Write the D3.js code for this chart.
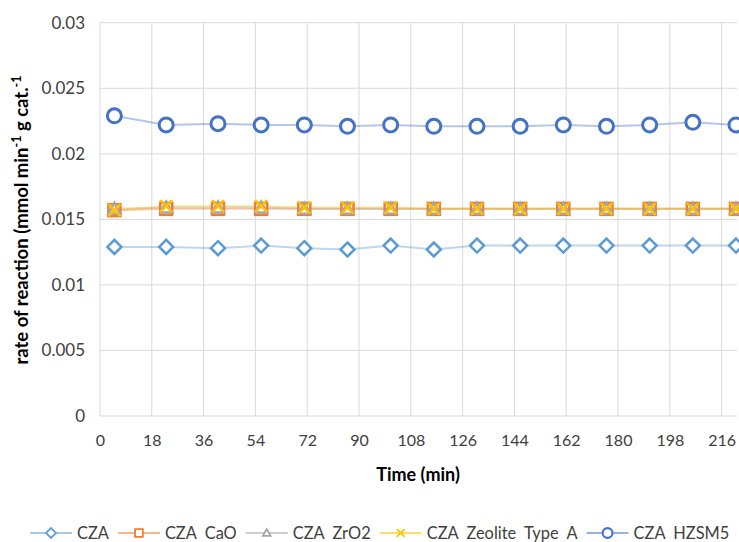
<!DOCTYPE html>
<html>
<head>
<meta charset="utf-8">
<script src="https://cdn.jsdelivr.net/npm/d3@7"></script>
<style>
  body { margin: 0; background: #fff; }
  svg { display: block; font-family: Lato, "Open Sans", sans-serif; }
  text { white-space: pre; }
</style>
</head>
<body>
<svg id="chart" width="739" height="542"></svg>
<script>
const times = [5, 23, 41, 56, 71, 86, 101, 116, 131, 146, 161, 176, 191, 206, 221]
const xTicks = [0, 18, 36, 54, 72, 90, 108, 126, 144, 162, 180, 198, 216]
const yTicks = [0, 0.005, 0.01, 0.015, 0.02, 0.025, 0.03]

const czaVals = [0.0129, 0.0129, 0.0128, 0.0130, 0.0128, 0.0127, 0.0130, 0.0127, 0.0130, 0.0130, 0.0130, 0.0130, 0.0130, 0.0130, 0.0130]
const caoVals = [0.0157, 0.0158, 0.0158, 0.0158, 0.0158, 0.0158, 0.0158, 0.0158, 0.0158, 0.0158, 0.0158, 0.0158, 0.0158, 0.0158, 0.0158]
const zro2Vals = [0.0158, 0.0159, 0.0159, 0.0159, 0.0158, 0.0158, 0.0158, 0.0158, 0.0158, 0.0158, 0.0158, 0.0158, 0.0158, 0.0158, 0.0158]
const zeoliteVals = [0.0157, 0.0160, 0.0160, 0.0160, 0.0159, 0.0159, 0.0159, 0.0158, 0.0158, 0.0158, 0.0158, 0.0158, 0.0158, 0.0158, 0.0158]
const hzsm5Vals = [0.0229, 0.0222, 0.0223, 0.0222, 0.0222, 0.0221, 0.0222, 0.0221, 0.0221, 0.0221, 0.0222, 0.0221, 0.0222, 0.0224, 0.0222]

const seriesNames = ["CZA", "CZA  CaO", "CZA  ZrO2", "CZA  Zeolite  Type  A", "CZA  HZSM5"]
const seriesColors = ["#5b9bd5", "#ed7d31", "#a5a5a5", "#ffc000", "#4472c4"]
const seriesMarkers = ["diamond", "square", "triangle", "cross", "circle"]
const seriesValues = [czaVals, caoVals, zro2Vals, zeoliteVals, hzsm5Vals]

const svg = d3.select("#chart")
const plotLeft = 100, plotTop = 22.7, plotBottom = 416
const step = 51.8 // px per 18 min

const x = d3.scaleLinear().domain([0, 234]).range([plotLeft, plotLeft + 13 * step])
const y = d3.scaleLinear().domain([0, 0.03]).range([plotBottom, plotTop])
const plotRight = 737

// grid
svg.append("g")
  .selectAll("line")
  .data(xTicks)
  .join("line")
  .attr("x1", d => x(d)).attr("x2", d => x(d))
  .attr("y1", plotTop).attr("y2", plotBottom)
  .attr("stroke", "#d9d9d9").attr("stroke-width", 1)

svg.append("g")
  .selectAll("line")
  .data(yTicks)
  .join("line")
  .attr("x1", plotLeft).attr("x2", plotRight)
  .attr("y1", d => y(d)).attr("y2", d => y(d))
  .attr("stroke", "#d9d9d9").attr("stroke-width", 1)

// axes labels via d3 axes, lines hidden
const yAxis = svg.append("g")
  .attr("transform", `translate(${plotLeft - 12},0)`)
  .call(d3.axisLeft(y).tickValues(yTicks).tickSize(0).tickFormat(d => d === 0 ? "0" : String(+d.toFixed(3))))
yAxis.select(".domain").remove()
yAxis.selectAll("text").attr("font-size", 17).attr("fill", "#404040").attr("font-family", "Lato")

const xAxis = svg.append("g")
  .attr("transform", `translate(0,${plotBottom + 16})`)
  .call(d3.axisBottom(x).tickValues(xTicks).tickSize(0))
xAxis.select(".domain").remove()
xAxis.selectAll("text").attr("font-size", 16).attr("fill", "#404040").attr("font-family", "Lato")

// titles
svg.append("text")
  .attr("x", 418).attr("y", 481)
  .attr("text-anchor", "middle")
  .attr("font-size", 18).attr("font-weight", "bold").attr("fill", "#000")
  .text("Time (min)")

const yt = svg.append("text")
  .attr("transform", "translate(28,220) rotate(-90)")
  .attr("text-anchor", "middle")
  .attr("font-size", 18.5).attr("font-weight", "bold").attr("fill", "#000")
yt.append("tspan").text("rate of reaction (mmol min")
yt.append("tspan").text("-1").attr("font-size", 12.5).attr("baseline-shift", "super")
yt.append("tspan").text(" g cat.")
yt.append("tspan").text("-1").attr("font-size", 12.5).attr("baseline-shift", "super")

// marker drawing
function drawMarker(g, type, color, cx, cy, k = 1) {
  const r = 7 * k
  const sw = 2.5 * k
  if (type === "diamond") {
    g.append("path").attr("d", `M${cx},${cy - r}L${cx + r},${cy}L${cx},${cy + r}L${cx - r},${cy}Z`)
      .attr("fill", "#fff").attr("stroke", color).attr("stroke-width", sw)
  } else if (type === "square") {
    g.append("rect").attr("x", cx - r + 1).attr("y", cy - r + 1).attr("width", 2 * r - 2).attr("height", 2 * r - 2)
      .attr("fill", "#fff").attr("stroke", color).attr("stroke-width", sw)
  } else if (type === "triangle") {
    g.append("path").attr("d", `M${cx},${cy - r + 1}L${cx + r - 1},${cy + r - 2}L${cx - r + 1},${cy + r - 2}Z`)
      .attr("fill", "#fff").attr("stroke", color).attr("stroke-width", sw)
  } else if (type === "cross") {
    const c = r - 1
    g.append("path").attr("d", `M${cx - c},${cy - c}L${cx + c},${cy + c}M${cx + c},${cy - c}L${cx - c},${cy + c}`)
      .attr("fill", "none").attr("stroke", color).attr("stroke-width", sw)
  } else if (type === "circle") {
    g.append("circle").attr("cx", cx).attr("cy", cy).attr("r", r)
      .attr("fill", "#fff").attr("stroke", color).attr("stroke-width", 3 * k)
  }
}

const plot = svg.append("g")
const line = d3.line().x((d, i) => x(times[i])).y(d => y(d))

seriesValues.forEach((vals, s) => {
  plot.append("path")
    .datum(vals)
    .attr("d", line)
    .attr("fill", "none")
    .attr("stroke", seriesColors[s])
    .attr("stroke-opacity", 0.4)
    .attr("stroke-width", 2)
})

// markers: draw in series order so later ones sit on top
const order = [0, 4, 1, 2, 3]
order.forEach(s => {
  const g = plot.append("g")
  seriesValues[s].forEach((v, i) => drawMarker(g, seriesMarkers[s], seriesColors[s], x(times[i]), y(v)))
})

// legend
const legend = svg.append("g")
let lx = 30
const ly = 533
seriesNames.forEach((name, s) => {
  const item = legend.append("g")
  item.append("line").attr("x1", lx).attr("x2", lx + 42).attr("y1", ly).attr("y2", ly)
    .attr("stroke", seriesColors[s]).attr("stroke-opacity", 0.55).attr("stroke-width", 2)
  drawMarker(item, seriesMarkers[s], seriesColors[s], lx + 21, ly, 0.7)
  const t = item.append("text").attr("x", lx + 47).attr("y", ly + 6)
    .attr("font-size", 16.4).attr("fill", "#404040").text(name)
  lx += 47 + t.node().getComputedTextLength() + 9
})
</script>
</body>
</html>
